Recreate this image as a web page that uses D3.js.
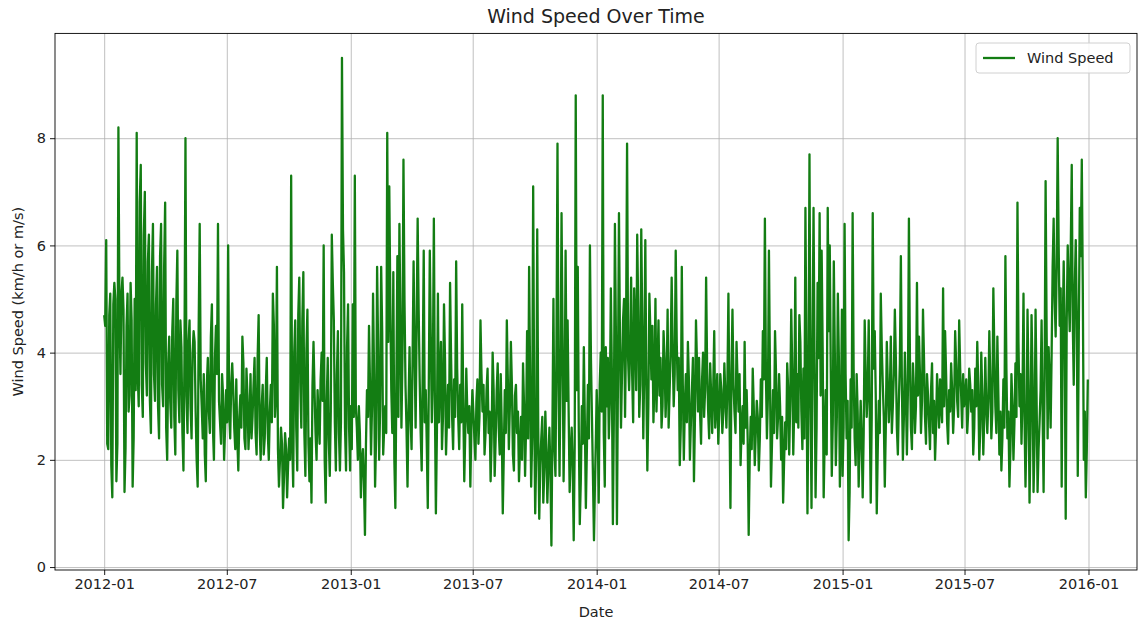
<!DOCTYPE html>
<html><head><meta charset="utf-8">
<script src="https://cdn.jsdelivr.net/npm/d3@7/dist/d3.min.js"></script>
<style>
body{margin:0;background:#fff}
svg{display:block}
text{font-family:"DejaVu Sans",sans-serif;fill:#222}
</style>
</head><body>
<svg id="c" width="1138" height="626"></svg>
<script>
// ---- data ----
// main readings: ~3-day steps, each year spread Jan 1 .. Dec 31
const years = [2012, 2013, 2014, 2015];
const wind2012 = [
 4.7, 6.1, 2.2, 5.1, 1.3, 5.3, 1.6, 8.2, 3.6, 5.4,
 1.4, 4.5, 2.9, 5.3, 1.5, 5.0, 8.1, 3.0, 7.5, 2.8,
 7.0, 3.2, 6.2, 2.5, 6.4, 3.1, 5.6, 2.4, 6.4, 3.0,
 6.8, 2.0, 4.3, 2.6, 5.0, 2.1, 5.9, 2.7, 4.1, 1.8,
 8.0, 2.5, 4.6, 2.4, 4.4, 2.9, 1.5, 6.4, 3.0, 3.6,
 1.6, 3.9, 2.5, 4.9, 2.0, 4.5, 6.4, 2.7, 3.6, 2.0,
 3.3, 6.0, 2.4, 3.8, 2.6, 3.5, 1.8, 3.2, 4.3, 2.4,
 3.7, 2.2, 3.6, 2.8, 3.9, 2.1, 4.7, 2.0, 3.4, 2.4,
 3.9, 2.0, 3.4, 5.1, 2.8, 5.6, 1.5, 2.6, 1.1, 2.5,
 1.3, 2.4, 7.3, 1.5, 4.6, 1.8, 5.4, 2.6, 5.5, 1.7,
 4.8, 1.6, 1.2, 4.2, 2.5, 3.3, 2.3, 4.0, 6.0, 1.2,
 3.9, 1.7, 6.2, 4.6, 1.8, 4.4, 1.8, 9.5, 5.5, 1.8,
 4.9, 1.8
];
const wind2013 = [
 3.0, 4.9, 7.3, 2.6, 3.0, 1.3, 2.2, 0.6, 3.3, 4.5,
 2.1, 5.1, 1.5, 5.6, 2.0, 5.6, 2.1, 3.0, 8.1, 7.1,
 3.3, 5.5, 1.1, 5.8, 6.4, 2.6, 7.6, 3.4, 1.5, 4.1,
 2.2, 5.7, 2.6, 6.5, 3.5, 1.8, 5.9, 3.3, 1.1, 5.9,
 2.7, 6.5, 1.0, 5.1, 3.5, 2.2, 4.9, 2.1, 3.4, 5.3,
 2.8, 3.5, 5.7, 2.8, 3.4, 4.9, 1.6, 3.7, 2.5, 1.5,
 3.3, 2.4, 3.1, 2.3, 4.6, 2.9, 2.1, 3.3, 2.5, 1.6,
 4.0, 1.7, 3.3, 2.6, 3.6, 1.0, 3.3, 4.6, 2.2, 4.2,
 2.1, 3.2, 2.5, 1.6, 2.8, 3.8, 1.7, 4.4, 5.6, 1.5,
 7.1, 1.0, 6.3, 0.9, 2.4, 1.2, 2.9, 1.2, 2.6, 0.4,
 5.0, 1.7, 7.9, 1.7, 6.6, 1.6, 5.9, 4.6, 1.4, 2.6,
 0.5, 8.8, 5.6, 0.8, 3.0, 4.1, 1.1, 3.4, 6.0, 2.8,
 0.5, 2.5
];
const wind2014 = [
 3.3, 1.2, 4.0, 8.8, 1.5, 3.0, 2.4, 5.2, 0.8, 6.4,
 0.8, 6.6, 2.6, 4.6, 2.8, 7.9, 3.3, 5.4, 2.7, 4.5,
 6.2, 2.8, 6.3, 2.4, 6.1, 1.8, 5.1, 3.5, 2.7, 5.0,
 3.7, 3.2, 2.6, 4.4, 2.8, 4.8, 3.3, 5.4, 3.0, 5.9,
 3.3, 1.9, 5.6, 2.0, 3.6, 4.2, 2.0, 3.3, 1.6, 4.6,
 2.9, 2.9, 3.5, 2.8, 5.4, 2.9, 3.8, 2.5, 4.4, 3.0,
 2.3, 3.6, 2.5, 3.8, 2.6, 5.1, 1.1, 4.8, 2.9, 4.2,
 2.9, 1.9, 3.0, 4.2, 3.3, 0.6, 2.8, 3.7, 1.9, 3.1,
 1.8, 3.5, 4.4, 6.5, 2.4, 5.9, 1.5, 3.3, 4.4, 2.4,
 3.6, 2.0, 1.2, 2.7, 3.8, 2.1, 4.8, 2.1, 5.4, 3.6,
 4.7, 2.9, 3.7, 6.7, 1.0, 7.7, 1.1, 6.7, 1.3, 5.3,
 6.6, 5.9, 1.3, 3.3, 6.7, 6.0, 1.7, 5.7, 1.9, 5.1,
 1.5, 4.8
];
const wind2015 = [
 1.7, 6.4, 2.4, 0.5, 3.5, 6.6, 2.4, 3.6, 1.5, 3.1,
 1.3, 4.6, 2.8, 4.6, 1.2, 6.6, 4.4, 1.0, 3.1, 5.1,
 3.4, 1.5, 4.2, 2.7, 4.3, 3.0, 4.8, 2.6, 3.1, 5.8,
 2.0, 4.0, 2.1, 6.5, 2.6, 3.8, 2.5, 5.3, 4.3, 2.5,
 4.8, 2.8, 3.6, 2.7, 3.3, 2.5, 2.0, 3.6, 2.6, 3.0,
 5.2, 4.4, 2.7, 3.3, 3.8, 2.5, 4.4, 3.1, 4.6, 3.2,
 3.6, 3.2, 2.5, 3.7, 2.9, 2.1, 3.7, 4.2, 2.0, 4.0,
 2.1, 3.9, 2.5, 4.4, 2.4, 5.2, 3.0, 4.3, 2.1, 1.8,
 3.5, 5.8, 2.4, 1.5, 3.6, 2.0, 3.8, 6.8, 3.0, 2.3,
 5.1, 1.5, 4.8, 1.2, 4.7, 1.4, 4.8, 1.4, 2.7, 4.6,
 1.4, 7.2, 2.4, 3.5, 4.0, 6.5, 4.3, 8.0, 4.5, 1.5,
 5.7, 0.9, 6.0, 4.4, 7.5, 3.4, 6.1, 1.7, 6.7, 7.6,
 2.0, 1.3, 3.5
];
// in-between readings (the day between two main readings)
const wind2012mid = [
 4.5, 2.3, 4.7, 1.9, 4.9, 5.0, 2.3, 4.8, 5.1, 4.8,
 2.2, 5.1, 3.2, 4.6, 2.4, 3.3, 3.6, 6.8, 3.4, 6.2,
 3.8, 5.7, 3.1, 5.5, 3.6, 4.9, 3.0, 5.8, 3.4, 5.6,
 2.6, 3.8, 3.1, 4.4, 2.8, 4.9, 3.3, 4.6, 2.5, 3.9,
 3.2, 4.2, 3.0, 4.0, 4.2, 2.0, 4.5, 3.5, 2.4, 2.1,
 3.4, 2.9, 4.3, 2.6, 3.9, 3.6, 3.1, 2.3, 3.2, 2.6,
 2.7, 2.9, 3.4, 3.3, 2.2, 2.4, 2.8, 2.6, 3.8, 2.2,
 3.2, 2.7, 2.4, 3.4, 2.5, 3.9, 2.6, 3.0, 2.1, 3.3,
 2.5, 2.9, 2.7, 4.5, 3.2, 2.2, 2.0, 2.3, 1.7, 2.2,
 1.9, 2.0, 2.4, 4.0, 2.6, 4.7, 3.4, 4.6, 2.5, 4.0,
 2.3, 2.4, 3.4, 3.3, 2.0, 2.8, 3.5, 3.1, 2.0, 3.1,
 2.4, 2.9, 5.3, 2.7, 3.6, 2.5, 2.7, 6.3, 2.6, 4.1,
 2.6
];
const wind2013mid = [
 2.2, 2.8, 3.0, 2.0, 2.5, 2.0, 1.6, 2.3, 2.8, 3.4,
 3.0, 3.6, 2.4, 4.1, 3.0, 4.4, 2.6, 2.5, 4.2, 5.0,
 2.5, 2.0, 3.4, 2.8, 4.6, 3.9, 5.0, 2.6, 3.0, 2.8,
 3.9, 4.0, 4.5, 4.8, 2.5, 3.7, 2.7, 2.3, 3.4, 4.2,
 3.6, 3.1, 2.5, 2.7, 4.2, 2.8, 3.9, 2.8, 2.6, 3.9,
 2.2, 2.8, 3.7, 2.2, 2.7, 3.1, 2.5, 2.9, 3.0, 2.6,
 2.9, 2.0, 3.5, 2.8, 3.6, 3.4, 2.5, 3.7, 2.9, 2.4,
 3.3, 2.4, 3.8, 2.1, 2.6, 2.1, 2.5, 3.5, 3.0, 3.4,
 1.8, 3.4, 2.9, 2.2, 2.0, 3.0, 2.6, 2.4, 3.5, 2.4,
 3.0, 2.1, 2.6, 1.9, 2.8, 1.8, 2.2, 1.9, 1.8, 2.6,
 2.2, 4.2, 3.4, 3.6, 4.3, 2.9, 3.1, 2.9, 2.1, 1.9,
 2.3, 3.3, 2.6, 1.6, 2.3, 2.7, 2.2, 2.4, 3.9, 1.7,
 1.6
];
const wind2014mid = [
 2.7, 3.4, 2.9, 2.5, 4.1, 3.9, 3.1, 3.6, 2.9, 4.3,
 3.5, 4.2, 3.6, 5.0, 4.4, 3.9, 4.1, 3.6, 5.2, 3.3,
 4.8, 3.4, 4.5, 3.8, 3.4, 3.0, 4.4, 4.5, 3.4, 2.9,
 4.6, 3.9, 3.0, 3.9, 3.4, 2.6, 4.0, 4.1, 3.6, 4.2,
 3.9, 2.6, 3.4, 3.0, 2.7, 3.5, 2.7, 3.9, 2.8, 3.8,
 3.9, 2.3, 4.0, 3.3, 3.7, 2.4, 3.2, 3.3, 2.6, 3.6,
 2.9, 3.3, 2.9, 3.2, 3.4, 3.0, 3.6, 3.4, 2.5, 3.5,
 3.6, 2.6, 2.3, 2.6, 2.4, 2.0, 2.2, 3.0, 2.5, 2.8,
 2.4, 2.8, 3.5, 3.6, 3.2, 3.6, 2.3, 2.5, 3.6, 2.8,
 3.0, 2.8, 2.0, 2.2, 3.3, 3.1, 3.7, 3.0, 2.7, 2.6,
 4.2, 2.2, 2.4, 3.9, 3.2, 3.4, 4.0, 3.8, 2.6, 3.9,
 3.2, 4.1, 2.4, 2.1, 4.4, 3.7, 2.7, 4.0, 2.8, 3.9,
 2.7
];
const wind2015mid = [
 2.6, 3.6, 3.1, 1.4, 2.6, 3.7, 1.9, 2.9, 2.3, 2.4,
 2.5, 3.6, 3.3, 2.9, 2.8, 3.7, 3.2, 2.2, 2.5, 4.1,
 2.8, 2.6, 3.4, 3.2, 2.5, 3.6, 3.9, 2.1, 3.8, 3.4,
 2.8, 3.2, 3.3, 3.9, 2.2, 3.3, 3.0, 3.2, 3.6, 3.1,
 3.9, 2.3, 3.2, 2.2, 3.8, 3.1, 2.6, 3.1, 3.5, 2.7,
 3.0, 3.6, 2.3, 2.9, 3.3, 3.0, 3.8, 2.8, 3.7, 2.6,
 3.0, 3.5, 2.9, 3.4, 3.3, 2.6, 3.0, 3.4, 2.6, 3.2,
 2.8, 3.0, 3.1, 3.5, 2.9, 4.0, 2.5, 3.2, 2.9, 2.4,
 2.6, 3.7, 2.9, 2.2, 3.0, 2.7, 2.8, 4.2, 3.6, 3.2,
 2.8, 2.6, 3.4, 2.5, 3.6, 2.3, 3.2, 2.2, 3.3, 2.9,
 3.5, 4.4, 4.1, 2.6, 5.6, 5.0, 5.6, 6.0, 5.2, 4.4,
 4.3, 4.6, 5.1, 5.9, 4.6, 5.2, 4.6, 4.3, 5.8, 5.2,
 2.9, 2.2
];
const mainByYear = [wind2012, wind2013, wind2014, wind2015];
const midByYear = [wind2012mid, wind2013mid, wind2014mid, wind2015mid];
const xTickLabels = ["2012-01","2012-07","2013-01","2013-07","2014-01","2014-07","2015-01","2015-07","2016-01"];
const yTickValues = [0, 2, 4, 6, 8];
const titleText = "Wind Speed Over Time";
const xLabelText = "Date";
const yLabelText = "Wind Speed (km/h or m/s)";
const legendText = "Wind Speed";

// ---- build records ----
const DAY = 864e5;
const data = [];
years.forEach((yr, k) => {
  const vals = mainByYear[k], mids = midByYear[k];
  const start = Date.UTC(yr, 0, 1), end = Date.UTC(yr, 11, 31);
  const step = (end - start) / (vals.length - 1);
  vals.forEach((v, i) => {
    data.push({date: new Date(start + i * step), value: v});
    if (i < mids.length) data.push({date: new Date(start + (i + 0.5) * step), value: mids[i]});
  });
});

// ---- layout ----
const L = 55, R = 1137, T = 33.4, B = 570;
const svg = d3.select("#c");
const first = data[0].date, last = data[data.length - 1].date;
const pad = (last - first) * 0.05;
const x = d3.scaleUtc().domain([new Date(+first - pad), new Date(+last + pad)]).range([L, R]);
const vmin = d3.min(data, d => d.value), vmax = d3.max(data, d => d.value);
const vpad = (vmax - vmin) * 0.05;
const y = d3.scaleLinear().domain([vmin - vpad, vmax + vpad]).range([B, T]);
const parseM = d3.utcParse("%Y-%m");
const xTicks = xTickLabels.map(parseM);

// grid
const gx = svg.append("g").attr("transform", `translate(0,${B})`)
  .call(d3.axisBottom(x).tickValues(xTicks).tickSize(-(B - T)).tickFormat(""));
gx.select(".domain").remove();
gx.selectAll("line").attr("stroke", "#b0b0b0").attr("stroke-width", 0.8);
const gy = svg.append("g").attr("transform", `translate(${L},0)`)
  .call(d3.axisLeft(y).tickValues(yTickValues).tickSize(-(R - L)).tickFormat(""));
gy.select(".domain").remove();
gy.selectAll("line").attr("stroke", "#b0b0b0").attr("stroke-width", 0.8);

// line
svg.append("defs").append("clipPath").attr("id", "clip")
  .append("rect").attr("x", L).attr("y", T).attr("width", R - L).attr("height", B - T);
svg.append("path").datum(data)
  .attr("clip-path", "url(#clip)")
  .attr("fill", "none").attr("stroke", "#137d13").attr("stroke-width", 2.3)
  .attr("stroke-linejoin", "round")
  .attr("d", d3.line().x(d => x(d.date)).y(d => y(d.value)));

// frame
svg.append("rect").attr("x", L).attr("y", T).attr("width", R - L).attr("height", B - T)
  .attr("fill", "none").attr("stroke", "#000").attr("stroke-width", 0.9);

// axes
const ax = svg.append("g").attr("transform", `translate(0,${B})`)
  .call(d3.axisBottom(x).tickValues(xTicks).tickFormat(d3.utcFormat("%Y-%m")).tickSize(5).tickPadding(4));
ax.select(".domain").remove();
ax.selectAll("line").attr("stroke", "#000").attr("stroke-width", 0.9);
ax.selectAll("text").attr("font-size", 14.5).attr("fill", "#222").attr("font-family", "DejaVu Sans");
const ay = svg.append("g").attr("transform", `translate(${L},0)`)
  .call(d3.axisLeft(y).tickValues(yTickValues).tickFormat(d3.format("d")).tickSize(5).tickPadding(4));
ay.select(".domain").remove();
ay.selectAll("line").attr("stroke", "#000").attr("stroke-width", 0.9);
ay.selectAll("text").attr("font-size", 14.5).attr("fill", "#222").attr("font-family", "DejaVu Sans");

// labels
svg.append("text").attr("x", (L + R) / 2).attr("y", 23).attr("text-anchor", "middle")
  .attr("font-size", 19).text(titleText);
svg.append("text").attr("x", (L + R) / 2).attr("y", 617).attr("text-anchor", "middle")
  .attr("font-size", 14.5).text(xLabelText);
svg.append("text").attr("transform", `translate(23,${(T + B) / 2}) rotate(-90)`)
  .attr("text-anchor", "middle").attr("font-size", 14.5).text(yLabelText);

// legend
const lg = svg.append("g");
lg.append("rect").attr("x", 976).attr("y", 43).attr("width", 154).attr("height", 30).attr("rx", 3)
  .attr("fill", "#fff").attr("fill-opacity", 0.85).attr("stroke", "#d0d0d0");
lg.append("line").attr("x1", 983).attr("x2", 1015).attr("y1", 58).attr("y2", 58)
  .attr("stroke", "#137d13").attr("stroke-width", 2.3);
lg.append("text").attr("x", 1027).attr("y", 58).attr("dy", "0.35em").attr("font-size", 14.5).text(legendText);
</script>
</body></html>
